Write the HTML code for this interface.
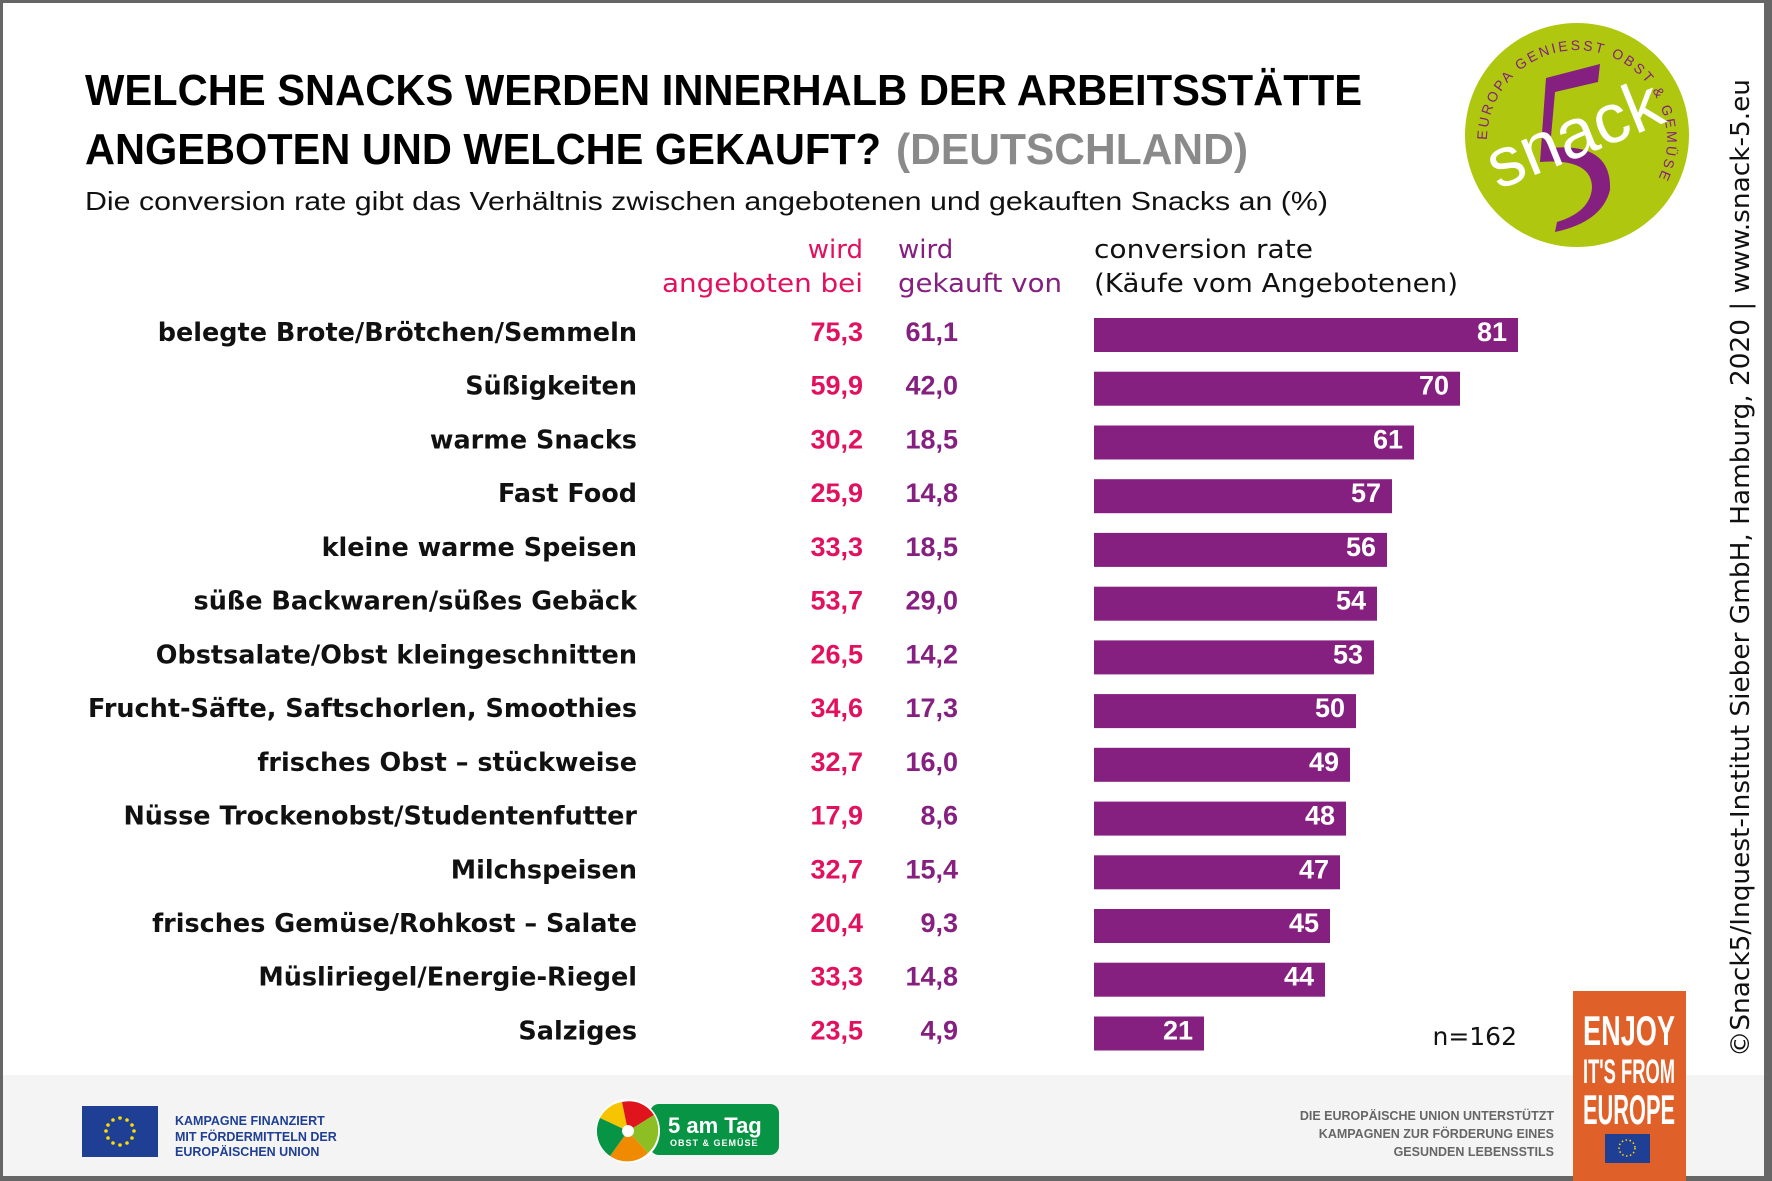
<!DOCTYPE html>
<html><head><meta charset="utf-8"><style>
html,body{margin:0;padding:0;background:#fff}
svg{display:block}
text{font-family:"Liberation Sans",sans-serif}
.dv{font-family:"DejaVu Sans","Liberation Sans",sans-serif}
</style></head><body>
<svg width="1772" height="1181" viewBox="0 0 1772 1181" xmlns="http://www.w3.org/2000/svg">
<rect x="0" y="0" width="1772" height="1181" fill="#fff"/>
<rect x="0" y="1075" width="1772" height="106" fill="#f4f4f4"/>
<rect x="1.5" y="1.5" width="1767" height="1177" fill="none" stroke="#666" stroke-width="3"/>
<rect x="1764" y="0" width="8" height="1181" fill="#666"/>
<rect x="0" y="1176" width="1772" height="5" fill="#666"/>

<text x="85" y="105" font-size="44" font-weight="bold" fill="#000" textLength="1277" lengthAdjust="spacingAndGlyphs">WELCHE SNACKS WERDEN INNERHALB DER ARBEITSSTÄTTE</text>
<text x="85" y="164" font-size="44" font-weight="bold" fill="#000" textLength="796" lengthAdjust="spacingAndGlyphs">ANGEBOTEN UND WELCHE GEKAUFT?</text>
<text x="896" y="164" font-size="44" font-weight="bold" fill="#8a8a8a" textLength="352" lengthAdjust="spacingAndGlyphs">(DEUTSCHLAND)</text>
<text x="85" y="210" font-size="26" fill="#111" textLength="1243" lengthAdjust="spacingAndGlyphs">Die conversion rate gibt das Verhältnis zwischen angebotenen und gekauften Snacks an (%)</text>

<g font-size="26">
<text class="dv" x="863" y="258" text-anchor="end" fill="#e2115f">wird</text>
<text class="dv" x="863" y="292" text-anchor="end" fill="#e2115f" textLength="201" lengthAdjust="spacingAndGlyphs">angeboten bei</text>
<text class="dv" x="898" y="258" fill="#851f80">wird</text>
<text class="dv" x="898" y="292" fill="#851f80" textLength="164" lengthAdjust="spacingAndGlyphs">gekauft von</text>
<text class="dv" x="1094" y="258" fill="#111" textLength="219" lengthAdjust="spacingAndGlyphs">conversion rate</text>
<text class="dv" x="1094" y="292" fill="#111" textLength="364" lengthAdjust="spacingAndGlyphs">(Käufe vom Angebotenen)</text>
</g>

<g font-size="27" font-weight="bold">
<g transform="translate(0,331)"><text class="dv" x="637" y="10" text-anchor="end" fill="#111" font-size="25.5">belegte Brote/Brötchen/Semmeln</text><text x="863" y="10" text-anchor="end" fill="#e2115f">75,3</text><text x="958" y="10" text-anchor="end" fill="#851f80">61,1</text><rect x="1094" y="-13" width="424" height="34" fill="#851f80"/><text x="1507" y="10" text-anchor="end" fill="#fff">81</text></g>
<g transform="translate(0,384.7)"><text class="dv" x="637" y="10" text-anchor="end" fill="#111" font-size="25.5">Süßigkeiten</text><text x="863" y="10" text-anchor="end" fill="#e2115f">59,9</text><text x="958" y="10" text-anchor="end" fill="#851f80">42,0</text><rect x="1094" y="-13" width="366" height="34" fill="#851f80"/><text x="1449" y="10" text-anchor="end" fill="#fff">70</text></g>
<g transform="translate(0,438.5)"><text class="dv" x="637" y="10" text-anchor="end" fill="#111" font-size="25.5">warme Snacks</text><text x="863" y="10" text-anchor="end" fill="#e2115f">30,2</text><text x="958" y="10" text-anchor="end" fill="#851f80">18,5</text><rect x="1094" y="-13" width="320" height="34" fill="#851f80"/><text x="1403" y="10" text-anchor="end" fill="#fff">61</text></g>
<g transform="translate(0,492.2)"><text class="dv" x="637" y="10" text-anchor="end" fill="#111" font-size="25.5">Fast Food</text><text x="863" y="10" text-anchor="end" fill="#e2115f">25,9</text><text x="958" y="10" text-anchor="end" fill="#851f80">14,8</text><rect x="1094" y="-13" width="298" height="34" fill="#851f80"/><text x="1381" y="10" text-anchor="end" fill="#fff">57</text></g>
<g transform="translate(0,545.9)"><text class="dv" x="637" y="10" text-anchor="end" fill="#111" font-size="25.5">kleine warme Speisen</text><text x="863" y="10" text-anchor="end" fill="#e2115f">33,3</text><text x="958" y="10" text-anchor="end" fill="#851f80">18,5</text><rect x="1094" y="-13" width="293" height="34" fill="#851f80"/><text x="1376" y="10" text-anchor="end" fill="#fff">56</text></g>
<g transform="translate(0,599.7)"><text class="dv" x="637" y="10" text-anchor="end" fill="#111" font-size="25.5">süße Backwaren/süßes Gebäck</text><text x="863" y="10" text-anchor="end" fill="#e2115f">53,7</text><text x="958" y="10" text-anchor="end" fill="#851f80">29,0</text><rect x="1094" y="-13" width="283" height="34" fill="#851f80"/><text x="1366" y="10" text-anchor="end" fill="#fff">54</text></g>
<g transform="translate(0,653.4)"><text class="dv" x="637" y="10" text-anchor="end" fill="#111" font-size="25.5">Obstsalate/Obst kleingeschnitten</text><text x="863" y="10" text-anchor="end" fill="#e2115f">26,5</text><text x="958" y="10" text-anchor="end" fill="#851f80">14,2</text><rect x="1094" y="-13" width="280" height="34" fill="#851f80"/><text x="1363" y="10" text-anchor="end" fill="#fff">53</text></g>
<g transform="translate(0,707.1)"><text class="dv" x="637" y="10" text-anchor="end" fill="#111" font-size="25.5">Frucht-Säfte, Saftschorlen, Smoothies</text><text x="863" y="10" text-anchor="end" fill="#e2115f">34,6</text><text x="958" y="10" text-anchor="end" fill="#851f80">17,3</text><rect x="1094" y="-13" width="262" height="34" fill="#851f80"/><text x="1345" y="10" text-anchor="end" fill="#fff">50</text></g>
<g transform="translate(0,760.8)"><text class="dv" x="637" y="10" text-anchor="end" fill="#111" font-size="25.5">frisches Obst – stückweise</text><text x="863" y="10" text-anchor="end" fill="#e2115f">32,7</text><text x="958" y="10" text-anchor="end" fill="#851f80">16,0</text><rect x="1094" y="-13" width="256" height="34" fill="#851f80"/><text x="1339" y="10" text-anchor="end" fill="#fff">49</text></g>
<g transform="translate(0,814.6)"><text class="dv" x="637" y="10" text-anchor="end" fill="#111" font-size="25.5">Nüsse Trockenobst/Studentenfutter</text><text x="863" y="10" text-anchor="end" fill="#e2115f">17,9</text><text x="958" y="10" text-anchor="end" fill="#851f80">8,6</text><rect x="1094" y="-13" width="252" height="34" fill="#851f80"/><text x="1335" y="10" text-anchor="end" fill="#fff">48</text></g>
<g transform="translate(0,868.3)"><text class="dv" x="637" y="10" text-anchor="end" fill="#111" font-size="25.5">Milchspeisen</text><text x="863" y="10" text-anchor="end" fill="#e2115f">32,7</text><text x="958" y="10" text-anchor="end" fill="#851f80">15,4</text><rect x="1094" y="-13" width="246" height="34" fill="#851f80"/><text x="1329" y="10" text-anchor="end" fill="#fff">47</text></g>
<g transform="translate(0,922)"><text class="dv" x="637" y="10" text-anchor="end" fill="#111" font-size="25.5">frisches Gemüse/Rohkost – Salate</text><text x="863" y="10" text-anchor="end" fill="#e2115f">20,4</text><text x="958" y="10" text-anchor="end" fill="#851f80">9,3</text><rect x="1094" y="-13" width="236" height="34" fill="#851f80"/><text x="1319" y="10" text-anchor="end" fill="#fff">45</text></g>
<g transform="translate(0,975.7)"><text class="dv" x="637" y="10" text-anchor="end" fill="#111" font-size="25.5">Müsliriegel/Energie-Riegel</text><text x="863" y="10" text-anchor="end" fill="#e2115f">33,3</text><text x="958" y="10" text-anchor="end" fill="#851f80">14,8</text><rect x="1094" y="-13" width="231" height="34" fill="#851f80"/><text x="1314" y="10" text-anchor="end" fill="#fff">44</text></g>
<g transform="translate(0,1029.5)"><text class="dv" x="637" y="10" text-anchor="end" fill="#111" font-size="25.5">Salziges</text><text x="863" y="10" text-anchor="end" fill="#e2115f">23,5</text><text x="958" y="10" text-anchor="end" fill="#851f80">4,9</text><rect x="1094" y="-13" width="110" height="34" fill="#851f80"/><text x="1193" y="10" text-anchor="end" fill="#fff">21</text></g>
</g>
<text class="dv" x="1517" y="1045" text-anchor="end" font-size="25" fill="#111">n=162</text>

<text class="dv" transform="translate(1749,1057) rotate(-90)" font-size="26" fill="#111" textLength="978" lengthAdjust="spacingAndGlyphs">©Snack5/Inquest-Institut Sieber GmbH, Hamburg, 2020 | www.snack-5.eu</text>

<circle cx="1577" cy="135" r="112" fill="#afc70e"/>
<defs><path id="arc" d="M1487,140 A90,90 0 1,1 1655,185"/></defs>
<text font-size="14" fill="#851f80" letter-spacing="2.5"><textPath href="#arc" startOffset="0">EUROPA GENIESST OBST &amp; GEMÜSE</textPath></text>
<path d="M1600,64 L1598,82 L1555,92 L1550,148 Q1612,142 1610,190 Q1602,222 1555,232 L1557,222 Q1590,212 1592,188 Q1592,158 1540,162 L1546,78 Z" fill="#851f80"/>
<text transform="translate(1498,190) rotate(-22)" font-family="Liberation Serif,serif" font-size="70" fill="#fff">snack</text>

<rect x="82" y="1106" width="76" height="51" fill="#1f3f94"/>
<g fill="#ffdd00">
<circle cx="120" cy="1118" r="1.8"/><circle cx="127" cy="1120" r="1.8"/><circle cx="132" cy="1125" r="1.8"/><circle cx="134" cy="1131" r="1.8"/><circle cx="132" cy="1138" r="1.8"/><circle cx="127" cy="1143" r="1.8"/><circle cx="120" cy="1145" r="1.8"/><circle cx="113" cy="1143" r="1.8"/><circle cx="108" cy="1138" r="1.8"/><circle cx="106" cy="1131" r="1.8"/><circle cx="108" cy="1125" r="1.8"/><circle cx="113" cy="1120" r="1.8"/>
</g>
<g font-size="12.5" font-weight="bold" fill="#1f3f94">
<text x="175" y="1125">KAMPAGNE FINANZIERT</text>
<text x="175" y="1141">MIT FÖRDERMITTELN DER</text>
<text x="175" y="1156">EUROPÄISCHEN UNION</text>
</g>
<rect x="650" y="1104" width="129" height="51" rx="9" fill="#079545"/>
<circle cx="628" cy="1131" r="32" fill="#fff"/>
<path d="M628,1131 L600,1118 A30,30 0 0,1 622,1102 Z" fill="#f6c400"/>
<path d="M628,1131 L622,1102 A30,30 0 0,1 654,1115 Z" fill="#e0141c"/>
<path d="M628,1131 L654,1115 A30,30 0 0,1 648,1153 Z" fill="#8dbe24"/>
<path d="M628,1131 L648,1153 A30,30 0 0,1 610,1156 Z" fill="#f08a00"/>
<path d="M628,1131 L610,1156 A30,30 0 0,1 600,1118 Z" fill="#079545"/>
<circle cx="628" cy="1131" r="6" fill="#fff"/>
<text x="668" y="1133" font-size="22" font-weight="bold" fill="#fff">5 am Tag</text>
<text x="670" y="1146" font-size="9" font-weight="bold" fill="#fff" letter-spacing="1">OBST &amp; GEMÜSE</text>
<g font-size="12.5" font-weight="bold" fill="#666" text-anchor="end">
<text x="1554" y="1120">DIE EUROPÄISCHE UNION UNTERSTÜTZT</text>
<text x="1554" y="1138">KAMPAGNEN ZUR FÖRDERUNG EINES</text>
<text x="1554" y="1156">GESUNDEN LEBENSSTILS</text>
</g>
<rect x="1573" y="991" width="113" height="190" fill="#e0602a"/>
<g fill="#fff" font-weight="bold" text-anchor="middle">
<text x="1629" y="1045" font-size="42" textLength="92" lengthAdjust="spacingAndGlyphs">ENJOY</text>
<text x="1629" y="1083" font-size="34" textLength="92" lengthAdjust="spacingAndGlyphs">IT'S FROM</text>
<text x="1629" y="1124" font-size="42" textLength="92" lengthAdjust="spacingAndGlyphs">EUROPE</text>
</g>
<rect x="1605" y="1134" width="45" height="29" fill="#1f3f94"/>
<circle cx="1627" cy="1148" r="8" fill="none" stroke="#ffdd00" stroke-width="1.5" stroke-dasharray="1.5 2.5"/>
</svg>
</body></html>
